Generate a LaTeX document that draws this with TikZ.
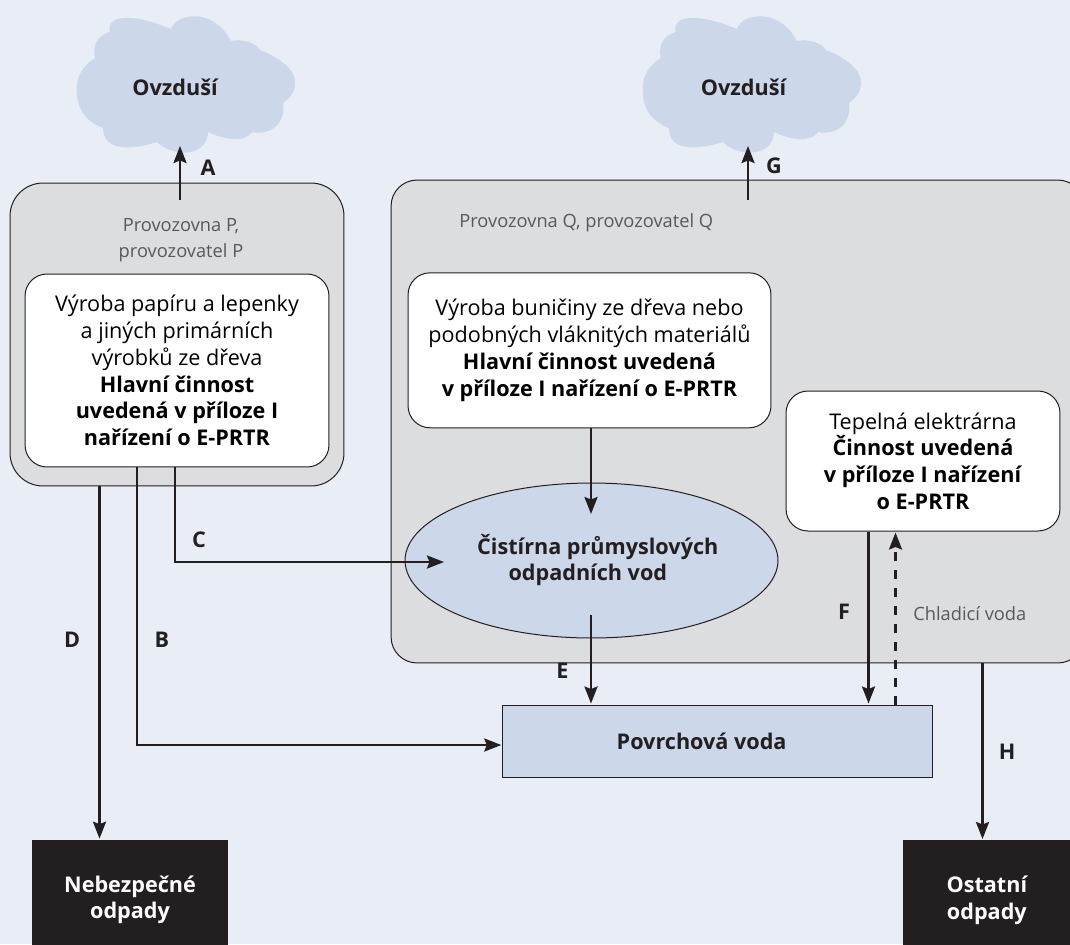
\documentclass[tikz,border=0pt]{standalone}
\usepackage{fontspec}
\setmainfont{Open Sans}
\usetikzlibrary{arrows.meta,shapes.geometric}
\definecolor{pagebg}{HTML}{E8EDF6}
\definecolor{skyblue}{HTML}{CCD7EA}
\definecolor{sitegray}{HTML}{DCDDDF}
\definecolor{inkblack}{HTML}{231F20}
\definecolor{softgray}{HTML}{58595B}
\tikzset{
	flowline/.style={draw=inkblack,line width=0.05cm,shorten >=0.02cm,-{Stealth[length=0.34cm,width=0.26cm,inset=0.05cm]}},
	coolline/.style={flowline,dash pattern=on 0.18cm off 0.18cm},
	sitebox/.style={draw=inkblack,line width=0.02cm,fill=sitegray,rounded corners=0.52cm},
	mainbox/.style={draw=inkblack,line width=0.02cm,fill=white,rounded corners=0.44cm,inner sep=0pt,align=center,font=\fontsize{12.3}{15.2}\selectfont},
	sitelabel/.style={text=softgray,align=center,inner sep=0pt,font=\fontsize{10.4}{14.8}\selectfont},
	letterlabel/.style={text=inkblack,inner sep=0pt,font=\fontsize{12.3}{14}\selectfont\bfseries},
	boldlabel/.style={text=inkblack,align=center,inner sep=0pt,font=\fontsize{12.3}{15.2}\selectfont\bfseries},
	wastebox/.style={fill=inkblack,text=white,inner sep=0pt,align=center,font=\fontsize{12.3}{15}\selectfont\bfseries},
}
\newcommand{\cloudshape}{
	(171,29) .. controls (176,14) and (212,6) .. (231,41)
	.. controls (242,39) and (255,42) .. (260,50)
	.. controls (280,58) and (296,70) .. (295,83)
	.. controls (295,92) and (290,98) .. (283,103)
	.. controls (286,122) and (272,136) .. (252,132)
	.. controls (245,143) and (225,140) .. (208,132)
	.. controls (207,158) and (172,157) .. (157,142)
	.. controls (135,149) and (103,153) .. (103,128)
	.. controls (85,121) and (76,108) .. (77,87)
	.. controls (77,75) and (84,65) .. (95,58)
	.. controls (92,45) and (98,35) .. (110,32)
	.. controls (106,18) and (125,10) .. (171,29) -- cycle
}
\begin{document}
\begin{tikzpicture}[x=0.02cm,y=-0.02cm]
	\fill [pagebg] (0,0) rectangle (1070,944);
	\useasboundingbox (0,0) rectangle (1070,944);
	% clouds
	\fill [skyblue] \cloudshape;
	\begin{scope}[xshift=11.32cm]
		\fill [skyblue] \cloudshape;
	\end{scope}
	\node [boldlabel] (airP) at (175,87) {Ovzduší};
	\node [boldlabel] (airQ) at (743.5,87) {Ovzduší};
	% sites
	\node [sitebox,rounded corners=0.66cm,minimum width=6.68cm,minimum height=6.06cm] (siteP) at (177,334.5) {};
	\node [sitebox,minimum width=13.86cm,minimum height=9.66cm] (siteQ) at (737.5,421.5) {};
	\node [sitelabel] (labelP) at (181,240) {Provozovna P,\\provozovatel P};
	\node [sitelabel,anchor=base west] (labelQ) at (459,227) {Provozovna Q, provozovatel Q};
	\node [mainbox,minimum width=6.08cm,minimum height=3.86cm] (paper) at (177,370.5) {Výroba papíru a lepenky\\a jiných primárních\\výrobků ze dřeva\\\textbf{Hlavní činnost}\\\textbf{uvedená v příloze I}\\\textbf{nařízení o E-PRTR}};
	\node [mainbox,minimum width=7.26cm,minimum height=3.1cm] (pulp) at (589.5,350.3) {Výroba buničiny ze dřeva nebo\\podobných vláknitých materiálů\\\textbf{Hlavní činnost uvedená}\\\textbf{v příloze I nařízení o E-PRTR}};
	\node [mainbox,minimum width=5.48cm,minimum height=2.8cm] (power) at (923,461) {Tepelná elektrárna\\\textbf{Činnost uvedená}\\\textbf{v příloze I nařízení}\\\textbf{o E-PRTR}};
	\node [ellipse,draw=inkblack,line width=0.02cm,fill=skyblue,minimum width=7.46cm,minimum height=3.1cm,inner sep=0pt] (plant) at (591.5,560.5) {};
	\node [boldlabel] (plantlabel) at (597.8,560) {Čistírna průmyslových\\\hspace*{-0.4cm}odpadních vod};
	\node [rectangle,draw=inkblack,line width=0.02cm,fill=skyblue,minimum width=8.59cm,minimum height=1.44cm,inner sep=0pt] (water) at (717.5,741) {};
	\node [boldlabel] (waterlabel) at (701.6,741) {Povrchová voda};
	\node [wastebox,minimum width=3.92cm,minimum height=2.4cm] (hazard) at (130,900) {Nebezpečné\\odpady};
	\node [wastebox,minimum width=3.34cm,minimum height=2.4cm,anchor=north west] (other) at (903,840) {Ostatní\\odpady};
	% free ends
	\coordinate (a0) at (180,200);
	\coordinate (a1) at (180,145);
	\coordinate (g0) at (748,200);
	\coordinate (g1) at (748,145);
	\coordinate (b0) at (137,745);
	\coordinate (cx) at (175,500);
	\coordinate (c1) at (445,562);
	\coordinate (dx) at (99.5,500);
	\coordinate (hx) at (982.5,700);
	\coordinate (fx) at (868.5,600);
	\coordinate (kx) at (895.5,600);
	\coordinate (p1) at (591,515);
	\coordinate (e0) at (591,615);
	% connectors
	\draw [flowline] (a0) -- (a1);
	\draw [flowline] (g0) -- (g1);
	\draw [flowline] (pulp.south -| p1) -- (p1);
	\draw [flowline] (e0) -- (water.north -| e0);
	\draw [flowline] (paper.south -| cx) |- (c1);
	\draw [flowline] (paper.south -| b0) |- (water.west |- b0);
	\draw [flowline] (siteP.south -| dx) -- (hazard.north -| dx);
	\draw [flowline] (power.south -| fx) -- (water.north -| fx);
	\draw [coolline] (water.north -| kx) -- (power.south -| kx);
	\draw [flowline] (siteQ.south -| hx) -- (other.north -| hx);
	% letters
	\node [letterlabel] (lA) at (208,168) {A};
	\node [letterlabel] (lG) at (774,166) {G};
	\node [letterlabel] (lC) at (199,540) {C};
	\node [letterlabel] (lD) at (72,640) {D};
	\node [letterlabel] (lB) at (162,640) {B};
	\node [letterlabel] (lE) at (562.5,671) {E};
	\node [letterlabel] (lF) at (844,612) {F};
	\node [letterlabel] (lH) at (1007,752) {H};
	\node [sitelabel,anchor=base west] (cool) at (913,620) {Chladicí voda};
\end{tikzpicture}
\end{document}
